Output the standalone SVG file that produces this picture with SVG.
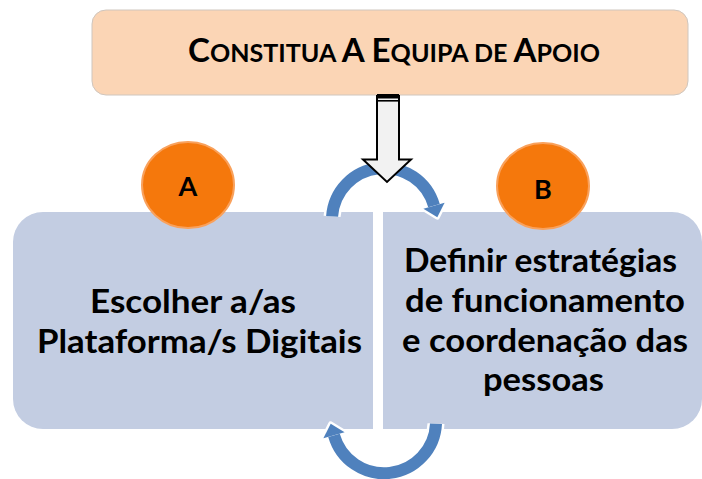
<svg xmlns="http://www.w3.org/2000/svg" width="702" height="479" viewBox="0 0 702 479">
<defs>
<style>
.t{font-family:Lato,"Liberation Sans",sans-serif;font-weight:700;fill:#000}
.bt{font-size:32px}
.box{fill:#C3CDE2}
.circ{fill:#F5780C;stroke:#F9A15C;stroke-width:2}
.arcw{fill:none;stroke:#fff;stroke-width:17}
.arc{fill:none;stroke:#4F81BD;stroke-width:12}
.headw{fill:#fff;stroke:#fff;stroke-width:5;stroke-linejoin:round}
.head{fill:#4F81BD}
</style>
</defs>
<rect width="702" height="479" fill="#fff"/>
<g id="title">
<rect x="92" y="10" width="596" height="85" rx="14" fill="#FBD5B5" stroke="#CFC6BE" stroke-width="1"/>
<text class="t" x="188" y="61.5" textLength="412" lengthAdjust="spacingAndGlyphs"><tspan font-size="33">C</tspan><tspan font-size="25">ONSTITUA </tspan><tspan font-size="33">A E</tspan><tspan font-size="25">QUIPA DE </tspan><tspan font-size="33">A</tspan><tspan font-size="25">POIO</tspan></text>
</g>
<g id="nodeA">
<path class="box" d="M373,212 L43,212 A30,30 0 0 0 13,242 L13,399 A30,30 0 0 0 43,429 L373,429 Z"/>
<text class="t bt" x="90" y="313" textLength="206" lengthAdjust="spacingAndGlyphs">Escolher a/as</text>
<text class="t bt" x="37" y="353" textLength="325" lengthAdjust="spacingAndGlyphs">Plataforma/s Digitais</text>
</g>
<g id="nodeB">
<path class="box" d="M383,212 L672,212 A30,30 0 0 1 702,242 L702,399 A30,30 0 0 1 672,429 L383,429 Z"/>
<text class="t bt" x="404" y="272" textLength="273" lengthAdjust="spacingAndGlyphs">Definir estratégias</text>
<text class="t bt" x="405" y="312" textLength="280" lengthAdjust="spacingAndGlyphs">de funcionamento</text>
<text class="t bt" x="402" y="352" textLength="286" lengthAdjust="spacingAndGlyphs">e coordenação das</text>
<text class="t bt" x="483" y="391" textLength="121" lengthAdjust="spacingAndGlyphs">pessoas</text>
</g>
<g id="badgeA">
<ellipse class="circ" cx="188" cy="185" rx="46" ry="43"/>
<text class="t" font-size="27" x="188" y="196" text-anchor="middle">A</text>
</g>
<g id="badgeB">
<ellipse class="circ" cx="543" cy="186" rx="46" ry="43"/>
<text class="t" font-size="27" x="543" y="199" text-anchor="middle">B</text>
</g>
<g id="connectors">
<path class="arcw" d="M332.1,216.4 A52,52 0 0 1 434,205.7"/>
<polygon class="headw" points="437.3,217.2 444.6,202.7 423.4,208.7"/>
<path class="arc" d="M332.1,216.4 A52,52 0 0 1 434,205.7"/>
<polygon class="head" points="437.3,217.2 444.6,202.7 423.4,208.7"/>
<path class="arcw" d="M436,423.7 A52,52 0 0 1 334,435.3"/>
<polygon class="headw" points="330.7,423.8 344.6,432.3 323.4,438.3"/>
<path class="arc" d="M436,423.7 A52,52 0 0 1 334,435.3"/>
<polygon class="head" points="330.7,423.8 344.6,432.3 323.4,438.3"/>
<path d="M377,96 L377,159.5 L363,159.5 L387,182 L411,159.5 L399,159.5 L399,96 Z" fill="#F2F2F2" stroke="#000" stroke-width="2" stroke-linejoin="miter"/>
<rect x="377" y="94" width="22" height="4.5" fill="#000"/>
<line x1="377" y1="100.8" x2="399" y2="100.8" stroke="#000" stroke-width="1.6"/>
</g>
</svg>
